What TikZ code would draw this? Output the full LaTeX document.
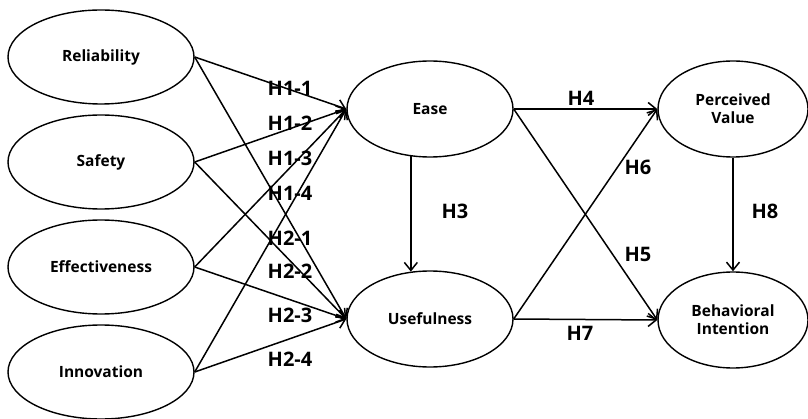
\documentclass[tikz,border=0pt]{standalone}
\usepackage{fontspec}
\setmainfont{Open Sans}
\usetikzlibrary{shapes.geometric,arrows.meta}
\tikzset{
  construct/.style={draw,ellipse,line width=1.4pt,inner sep=0pt,minimum width=186pt,minimum height=94pt,font=\fontsize{15.5}{18}\selectfont\bfseries,align=center},
  midconstruct/.style={construct,minimum width=166pt,minimum height=96pt},
  outconstruct/.style={construct,minimum width=150pt,minimum height=96pt},
  hyp/.style={line width=1.5pt,-{Straight Barb[length=8pt,width=13pt,line width=1.5pt]}},
  hlabel/.style={font=\fontsize{20}{22}\selectfont\bfseries}
}
\begin{document}
\begin{tikzpicture}[x=1pt,y=1pt]
\useasboundingbox (0,0) rectangle (808,418);
\node[construct] (rel) at (101,361) {Reliability};
\node[construct] (saf) at (101,256) {Safety};
\node[construct] (eff) at (101,151) {Effectiveness};
\node[construct] (inn) at (101,46) {Innovation};
\node[midconstruct] (ease) at (430,309) {Ease};
\node[midconstruct] (use) at (430,99) {Usefulness};
\node[outconstruct] (pv) at (733,309) {Perceived\\Value};
\node[outconstruct] (bi) at (733,98) {Behavioral\\Intention};
\draw[hyp] (rel.east) -- (ease.west);
\draw[hyp] (saf.east) -- (ease.west);
\draw[hyp] (eff.east) -- (ease.west);
\draw[hyp] (inn.east) -- (ease.west);
\draw[hyp] (rel.east) -- (use.west);
\draw[hyp] (saf.east) -- (use.west);
\draw[hyp] (eff.east) -- (use.west);
\draw[hyp] (inn.east) -- (use.west);
\draw[hyp] (ease.248) -- (use.112);
\draw[hyp] (ease.east) -- (pv.west);
\draw[hyp] (ease.east) -- (bi.west);
\draw[hyp] (use.east) -- (pv.west);
\draw[hyp] (use.east) -- (bi.west);
\draw[hyp] (pv.south) -- (bi.north);
\node[hlabel] (h11) at (290,330) {H1-1};
\node[hlabel] (h12) at (290,295) {H1-2};
\node[hlabel] (h13) at (290,260) {H1-3};
\node[hlabel] (h14) at (290,225) {H1-4};
\node[hlabel] (h21) at (290,180) {H2-1};
\node[hlabel] (h22) at (290,147) {H2-2};
\node[hlabel] (h23) at (290,103) {H2-3};
\node[hlabel] (h24) at (290,59) {H2-4};
\node[hlabel] (h3) at (455,207) {H3};
\node[hlabel] (h4) at (581,320) {H4};
\node[hlabel] (h5) at (638,164) {H5};
\node[hlabel] (h6) at (638,251) {H6};
\node[hlabel] (h7) at (580,85) {H7};
\node[hlabel] (h8) at (765,207) {H8};
\end{tikzpicture}
\end{document}
